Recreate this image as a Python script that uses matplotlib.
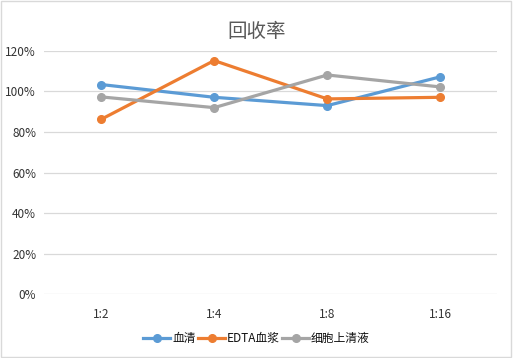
import matplotlib.pyplot as plt
from matplotlib.ticker import PercentFormatter
from matplotlib.patches import Rectangle

plt.rcParams['font.family'] = ['Noto Sans CJK SC', 'DejaVu Sans']

categories = ['1:2', '1:4', '1:8', '1:16']
serum = [103.4, 97.1, 93.0, 107.2]
edta = [86.2, 115.2, 96.3, 97.1]
supernatant = [97.3, 92.0, 108.1, 102.2]

fig = plt.figure(figsize=(5.13, 3.58), dpi=100)
ax = fig.add_axes([0.0867, 0.178, 0.882, 0.68])

x = range(len(categories))
ax.plot(x, serum, color='#5B9BD5', lw=2.3, marker='o', ms=5.5, label='血清')
ax.plot(x, edta, color='#ED7D31', lw=2.3, marker='o', ms=5.5, label='EDTA血浆')
ax.plot(x, supernatant, color='#A5A5A5', lw=2.3, marker='o', ms=5.5, label='细胞上清液')

ax.set_xlim(-0.5, len(categories) - 0.5)
ax.set_ylim(0, 120)
ax.set_yticks(range(0, 121, 20))
ax.yaxis.set_major_formatter(PercentFormatter(decimals=0))
ax.set_xticks(list(x))
ax.set_xticklabels(categories)
ax.grid(axis='y', color='#D9D9D9', lw=0.9)
ax.set_axisbelow(True)
for s in ax.spines.values():
    s.set_visible(False)
ax.tick_params(length=0, labelsize=8.5, colors='#333333', pad=6)
ax.tick_params(axis='x', pad=10)

fig.text(0.5, 0.912, '回收率', ha='center', va='center', fontsize=14, color='#595959')

leg = ax.legend(loc='center', bbox_to_anchor=(0.5, 0.055), bbox_transform=fig.transFigure,
                ncol=3, frameon=False, fontsize=8.5, handlelength=2.3, handletextpad=0.15,
                columnspacing=0.2)
for t in leg.get_texts():
    t.set_color('#111111')

fig.patches.append(Rectangle((0.002, 0.003), 0.995, 0.993, transform=fig.transFigure,
                             fill=False, edgecolor='#D9D9D9', lw=1))

plt.savefig('out.png', dpi=100)
